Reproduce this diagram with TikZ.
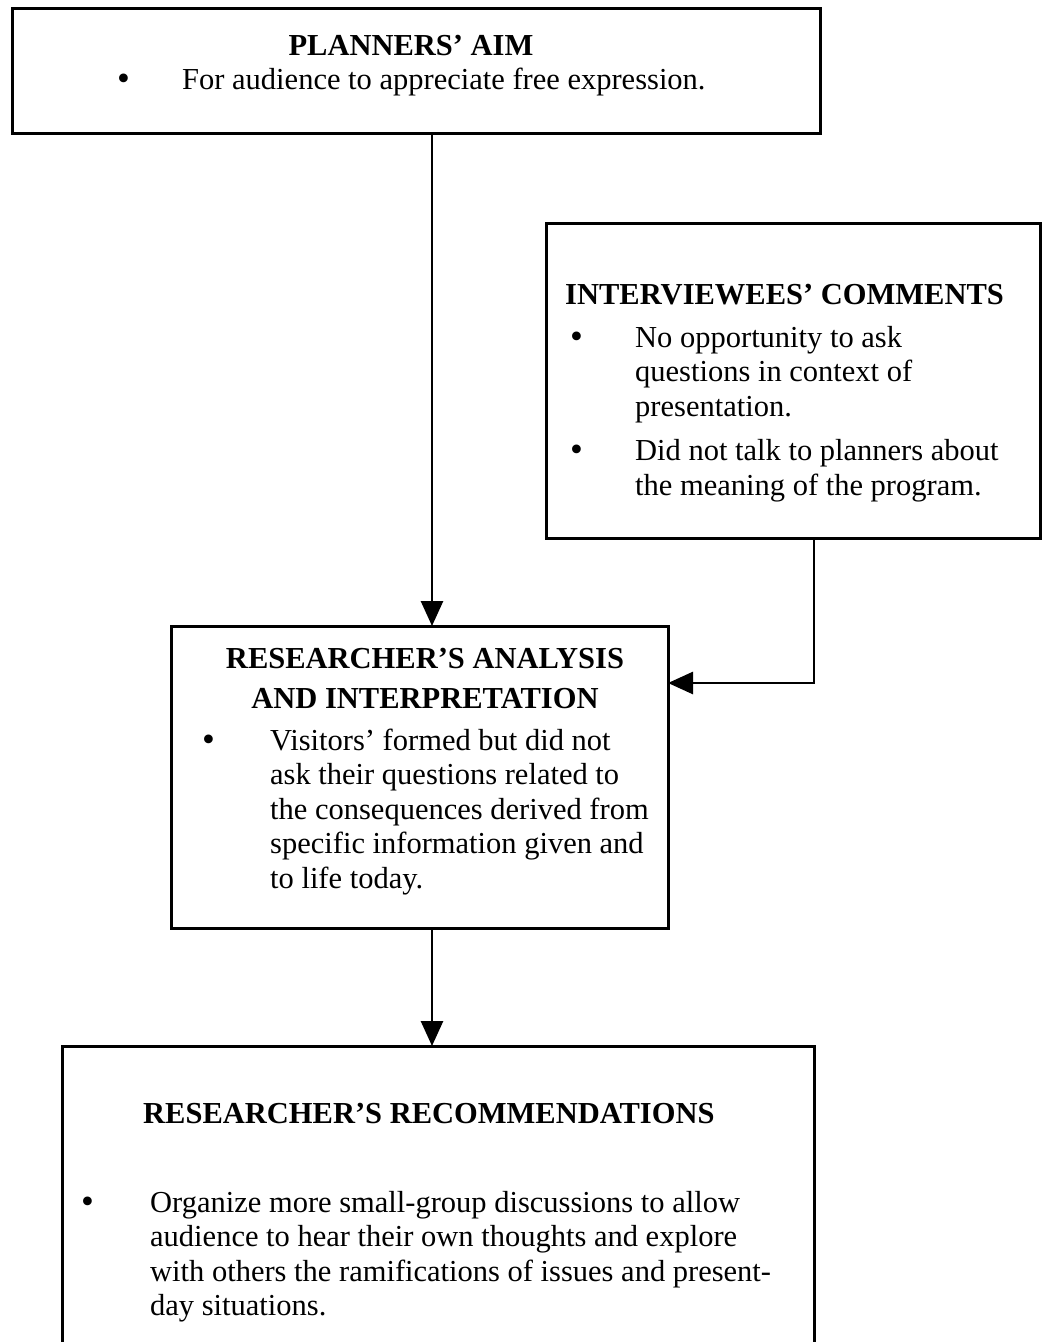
\documentclass[tikz,border=0pt]{standalone}
\usepackage{fontspec}
\setmainfont{Liberation Serif}
\usetikzlibrary{arrows.meta}
\newcommand\bodyfont{\fontsize{30.5}{34.5}\selectfont}
\newcommand\bul{\raisebox{-1pt}{\scalebox{1.2}{\textbullet}}}
\begin{document}
\begin{tikzpicture}[x=1pt,y=-1pt,
  box/.style={draw, line width=3pt, inner sep=0pt, outer sep=0pt, anchor=north west},
  ttl/.style={font=\bodyfont\bfseries, inner sep=0pt, anchor=base},
  txt/.style={font=\bodyfont, inner sep=0pt, anchor=base west},
  arr/.style={line width=2.7pt, -{Triangle[length=25pt,width=22pt]}}]
\useasboundingbox[fill=white] (0,0) rectangle (1042,1342);
% boxes
\node[box, minimum width=808pt, minimum height=125pt] (aim) at (12,8) {};
\node[box, minimum width=494pt, minimum height=315pt] (int) at (546,223) {};
\node[box, minimum width=497pt, minimum height=302pt] (ana) at (171,626) {};
\node[box, minimum width=752pt, minimum height=320pt] (rec) at (62,1046) {};
% texts
\node[ttl] (aimt) at (411,55) {PLANNERS’ AIM};
\node[txt] (aimb) at (117,89) {\begin{tabular}[t]{@{}p{65pt}@{}l@{}}\bul & For audience to appreciate free expression.\end{tabular}};
\node[ttl, anchor=base west] (intt) at (565,304) {INTERVIEWEES’ COMMENTS};
\node[txt] (intb) at (570,347) {\begin{tabular}[t]{@{}p{65pt}@{}l@{}}\bul & No opportunity to ask\\ & questions in context of\\ & presentation.\\[10pt]
\bul & Did not talk to planners about\\ & the meaning of the program.\end{tabular}};
\node[ttl] (anat) at (425,668) {\begin{tabular}[t]{@{}c@{}}RESEARCHER’S ANALYSIS\\[5.5pt] AND INTERPRETATION\end{tabular}};
\node[txt] (anab) at (202,750) {\begin{tabular}[t]{@{}p{68pt}@{}l@{}}\bul & Visitors’ formed but did not\\ & ask their questions related to\\ & the consequences derived from\\ & specific information given and\\ & to life today.\end{tabular}};
\node[ttl, anchor=base west] (rect) at (143,1123) {RESEARCHER’S RECOMMENDATIONS};
\node[txt] (recb) at (81,1212) {\begin{tabular}[t]{@{}p{69pt}@{}l@{}}\bul & Organize more small-group discussions to allow\\ & audience to hear their own thoughts and explore\\ & with others the ramifications of issues and present-\\ & day situations.\end{tabular}};
% connectors
\coordinate (colx) at (432,0);
\coordinate (bend) at (814,683);
\draw[arr] (aim.south -| colx) -- (ana.north -| colx);
\draw[arr] (int.south -| bend) -- (bend) -- (ana.east |- bend);
\draw[arr] (ana.south -| colx) -- (rec.north -| colx);
\end{tikzpicture}
\end{document}
